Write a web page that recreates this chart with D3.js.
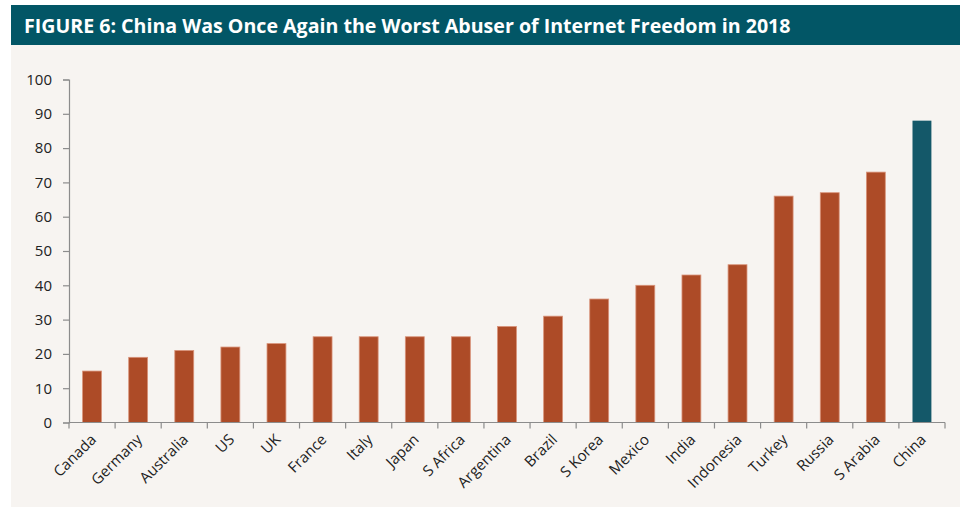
<!DOCTYPE html>
<html>
<head>
<meta charset="utf-8">
<script src="https://cdn.jsdelivr.net/npm/d3@7"></script>
<style>
  html, body { margin: 0; padding: 0; background: #ffffff; }
  svg { display: block; }
</style>
</head>
<body>
<svg id="chart" width="960" height="508"></svg>
<script>
// Internet freedom abuse scores, 2018
const countries = ["Canada", "Germany", "Australia", "US", "UK", "France", "Italy", "Japan",
  "S Africa", "Argentina", "Brazil", "S Korea", "Mexico", "India", "Indonesia", "Turkey",
  "Russia", "S Arabia", "China"];
const scores = [15, 19, 21, 22, 23, 25, 25, 25, 25, 28, 31, 36, 40, 43, 46, 66, 67, 73, 88];
const yTicks = [0, 10, 20, 30, 40, 50, 60, 70, 80, 90, 100];
const highlighted = ["China"];
const titleText = "FIGURE 6: China Was Once Again the Worst Abuser of Internet Freedom in 2018";

const data = countries.map((c, i) => ({ country: c, score: scores[i] }));

const svg = d3.select("#chart");
const W = 960, H = 508;

// Panel background and title banner
svg.append("rect").attr("x", 11).attr("y", 44).attr("width", W - 11).attr("height", 463)
  .attr("fill", "#f7f4f1");
svg.append("rect").attr("x", 11).attr("y", 5).attr("width", W - 11).attr("height", 40)
  .attr("fill", "#025666");
svg.append("text").attr("x", 24).attr("y", 32.5)
  .attr("fill", "#ffffff")
  .attr("font-family", "'Open Sans', 'Noto Sans', sans-serif")
  .attr("font-weight", 700)
  .attr("font-size", 19.6)
  .text(titleText);

const margin = { left: 69, right: 15, top: 79.5, bottom: 85.5 };
const x = d3.scaleBand().domain(countries)
  .range([margin.left, W - margin.right])
  .paddingInner(0.59).paddingOuter(0.295);
const y = d3.scaleLinear().domain([0, 100]).range([H - margin.bottom, margin.top]);

const font = "'Open Sans', 'Noto Sans', sans-serif";

// Bars
svg.append("g").selectAll("rect").data(data).join("rect")
  .attr("x", d => x(d.country))
  .attr("y", d => y(d.score))
  .attr("width", x.bandwidth())
  .attr("height", d => y(0) - y(d.score))
  .attr("fill", d => highlighted.includes(d.country) ? "#145869" : "#ad4b27")
  .attr("stroke", d => highlighted.includes(d.country) ? "none" : "#d9937a")
  .attr("stroke-width", 0.8);

// Y axis
const yAxis = svg.append("g")
  .attr("transform", `translate(${margin.left},0)`)
  .call(d3.axisLeft(y).tickValues(yTicks).tickSize(6).tickPadding(11));
yAxis.select(".domain").attr("stroke", "#8c8c8c").attr("stroke-width", 1.2);
yAxis.selectAll(".tick line").attr("stroke", "#8c8c8c").attr("stroke-width", 1.2);
yAxis.selectAll(".tick text")
  .attr("fill", "#222")
  .attr("font-family", font)
  .attr("font-size", 15);

// X axis with ticks at category boundaries
const xAxisG = svg.append("g").attr("transform", `translate(0,${y(0)})`);
const bounds = d3.range(countries.length + 1).map(i => margin.left + i * (W - margin.right - margin.left) / countries.length);
xAxisG.append("line")
  .attr("x1", margin.left).attr("x2", W - margin.right)
  .attr("stroke", "#8c8c8c").attr("stroke-width", 1.2);
xAxisG.selectAll("line.tk").data(bounds).join("line")
  .attr("class", "tk")
  .attr("x1", d => d).attr("x2", d => d)
  .attr("y1", 0).attr("y2", 6)
  .attr("stroke", "#8c8c8c").attr("stroke-width", 1.2);
xAxisG.selectAll("text").data(countries).join("text")
  .attr("transform", d => `translate(${x(d) + x.bandwidth() / 2 + 5},${18}) rotate(-45)`)
  .attr("text-anchor", "end")
  .attr("fill", "#222")
  .attr("font-family", font)
  .attr("font-size", 15)
  .text(d => d);
</script>
</body>
</html>
